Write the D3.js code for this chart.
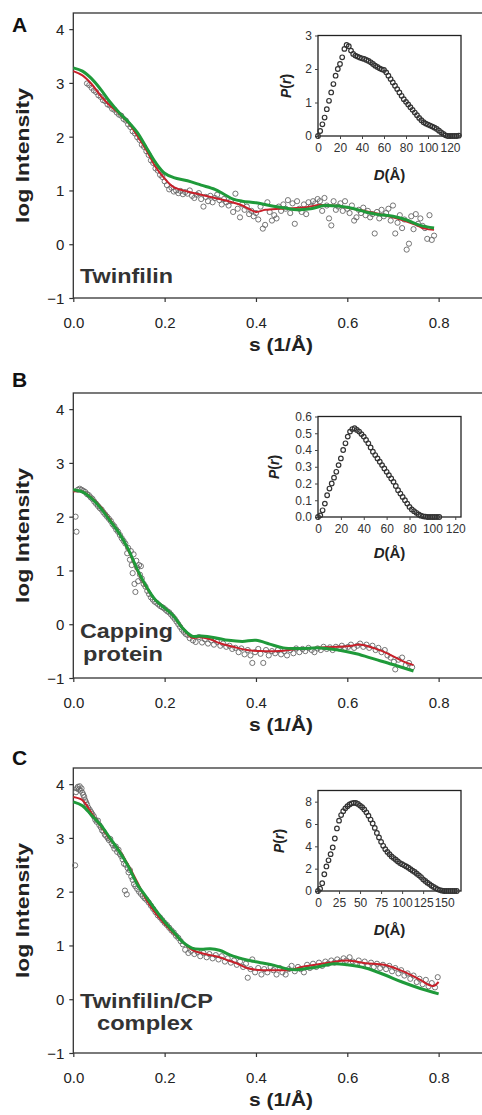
<!DOCTYPE html>
<html><head><meta charset="utf-8">
<script src="https://cdn.jsdelivr.net/npm/d3@7"></script>
<style>body{margin:0;background:#fff}svg{display:block}text{font-family:"Liberation Sans",Arial,sans-serif}</style>
</head><body>
<svg id="c" width="482" height="1115"></svg>
<script>
// ---------- DATA ----------
const xTicksMain = [0, 0.2, 0.4, 0.6, 0.8];
const yTicksMain = [-1, 0, 1, 2, 3, 4];

// Panel A: Twinfilin
const expA = [[0.030,2.99],[0.035,2.96],[0.040,2.91],[0.045,2.86],[0.050,2.83],[0.055,2.77],[0.060,2.74],[0.065,2.68],[0.070,2.66],[0.075,2.60],[0.080,2.58],[0.085,2.52],[0.090,2.50],[0.095,2.45],[0.100,2.41],[0.105,2.39],[0.110,2.33],[0.115,2.30],[0.120,2.23],[0.125,2.18],[0.130,2.10],[0.135,2.06],[0.140,1.99],[0.145,1.94],[0.150,1.85],[0.155,1.81],[0.160,1.73],[0.165,1.66],[0.170,1.56],[0.175,1.51],[0.180,1.41],[0.185,1.37],[0.190,1.29],[0.195,1.25],[0.200,1.17],
[0.205,1.10],[0.210,1.02],[0.215,1.05],[0.220,0.98],[0.225,1.00],[0.230,0.95],[0.235,0.99],[0.240,0.93],[0.245,0.97],[0.250,0.94],[0.255,1.00],[0.260,0.90],[0.265,0.86],[0.270,0.92],[0.275,0.95],[0.280,0.84],[0.285,0.70],[0.290,0.88],[0.295,0.80],[0.300,0.90],[0.305,0.78],[0.310,0.86],[0.315,0.92],[0.320,0.82],[0.325,0.74],[0.330,0.84],[0.335,0.78],[0.340,0.72],[0.345,0.80],[0.350,0.60],[0.355,0.94],[0.360,0.66],[0.365,0.50],[0.370,0.74],[0.375,0.64],[0.380,0.70],[0.385,0.56],[0.390,0.62],[0.395,0.52],[0.400,0.58],[0.405,0.46],[0.410,0.70],[0.415,0.29],[0.420,0.36],[0.425,0.78],[0.430,0.60],[0.435,0.44],[0.440,0.54],[0.445,0.48],[0.450,0.70],[0.455,0.62],[0.460,0.74],[0.465,0.66],[0.470,0.82],[0.475,0.58],[0.480,0.76],[0.485,0.38],[0.490,0.80],[0.495,0.66],[0.500,0.60],[0.505,0.74],[0.510,0.56],[0.515,0.78],[0.520,0.70],[0.525,0.80],[0.530,0.76],[0.535,0.84],[0.540,0.80],[0.545,0.62],[0.550,0.86],[0.555,0.72],[0.560,0.48],[0.565,0.35],[0.570,0.80],[0.575,0.64],[0.580,0.70],[0.585,0.76],[0.590,0.62],[0.595,0.80],[0.600,0.66],[0.605,0.58],[0.610,0.72],[0.615,0.44],[0.620,0.50],[0.625,0.64],[0.630,0.58],[0.635,0.68],[0.640,0.54],[0.645,0.62],[0.650,0.50],[0.655,0.56],[0.660,0.20],[0.665,0.60],[0.670,0.48],[0.675,0.64],[0.680,0.52],[0.685,0.58],[0.690,0.66],[0.695,0.44],[0.700,0.72],[0.705,0.20],[0.710,0.40],[0.715,0.54],[0.720,0.30],[0.725,0.46],[0.730,-0.10],[0.735,0.01],[0.740,0.52],[0.745,0.28],[0.750,0.56],[0.755,0.38],[0.760,0.48],[0.765,0.34],[0.770,0.30],[0.775,0.10],[0.780,0.54],[0.785,0.08],[0.790,0.16]];
const redA = [[0,3.22],[0.02,3.14],[0.04,2.98],[0.06,2.76],[0.08,2.58],[0.1,2.43],[0.12,2.26],[0.14,2.02],[0.16,1.75],[0.18,1.44],[0.2,1.22],[0.22,1.06],[0.25,0.98],[0.28,0.92],[0.31,0.86],[0.34,0.8],[0.37,0.72],[0.4,0.6],[0.42,0.64],[0.45,0.66],[0.48,0.67],[0.51,0.69],[0.54,0.73],[0.57,0.72],[0.6,0.68],[0.63,0.63],[0.66,0.58],[0.69,0.52],[0.72,0.45],[0.75,0.36],[0.77,0.29],[0.79,0.27]];
const greenA = [[0,3.28],[0.02,3.22],[0.04,3.08],[0.06,2.88],[0.08,2.65],[0.1,2.45],[0.12,2.28],[0.14,2.08],[0.16,1.8],[0.18,1.52],[0.2,1.32],[0.22,1.24],[0.25,1.18],[0.28,1.1],[0.31,1.02],[0.33,0.93],[0.35,0.84],[0.37,0.8],[0.4,0.77],[0.43,0.72],[0.46,0.68],[0.49,0.64],[0.52,0.66],[0.55,0.72],[0.58,0.71],[0.61,0.67],[0.64,0.6],[0.67,0.55],[0.7,0.52],[0.73,0.45],[0.76,0.35],[0.79,0.3]];
const prA = [[0,0],[2,0.15],[4,0.35],[6,0.55],[8,0.8],[10,1.05],[12,1.3],[14,1.55],[16,1.8],[18,2.0],[20,2.15],[22,2.35],[24,2.6],[26,2.72],[28,2.68],[30,2.55],[32,2.45],[34,2.4],[36,2.37],[38,2.34],[40,2.32],[42,2.3],[44,2.27],[46,2.24],[48,2.2],[50,2.15],[52,2.1],[54,2.06],[56,2.02],[58,1.99],[60,1.97],[62,1.9],[64,1.8],[66,1.7],[68,1.6],[70,1.5],[72,1.4],[74,1.3],[76,1.2],[78,1.1],[80,1.02],[82,0.94],[84,0.86],[86,0.78],[88,0.7],[90,0.62],[92,0.54],[94,0.47],[96,0.41],[98,0.37],[100,0.34],[102,0.31],[104,0.28],[106,0.25],[108,0.21],[110,0.16],[112,0.11],[114,0.06],[116,0.02],[118,0],[120,0],[122,0],[124,0],[126,0],[128,0.01]];
const prATicksX = [0,20,40,60,80,100,120];
const prATicksY = [0,1,2,3];

// Panel B: Capping protein
const expB = [[0.005,2.00],[0.007,1.72],[0.010,2.50],[0.014,2.52],[0.018,2.50],[0.022,2.48],[0.026,2.46],[0.030,2.42],[0.034,2.40],[0.038,2.36],[0.042,2.33],[0.046,2.28],[0.050,2.24],[0.054,2.20],[0.058,2.16],[0.062,2.13],[0.066,2.08],[0.070,2.04],[0.074,2.00],[0.078,1.96],[0.082,1.92],[0.086,1.86],[0.090,1.82],[0.094,1.76],[0.098,1.72],[0.102,1.66],[0.106,1.60],[0.110,1.55],[0.114,1.50],[0.118,1.32],[0.120,1.42],[0.124,1.20],[0.126,1.36],[0.128,1.10],[0.130,0.95],[0.132,1.30],[0.134,0.75],[0.136,0.60],[0.138,1.18],[0.140,1.05],[0.142,0.80],[0.144,1.10],[0.146,0.92],[0.148,1.08],[0.150,0.85],[0.154,0.75],[0.158,0.70],[0.162,0.62],[0.166,0.56],[0.170,0.50],[0.174,0.46],[0.178,0.42],[0.182,0.40],[0.186,0.37],[0.190,0.34],[0.194,0.32],[0.198,0.30],[0.202,0.27],[0.206,0.24],[0.210,0.22],[0.214,0.18],[0.218,0.14],[0.222,0.10],[0.226,0.05],[0.230,0.00],[0.234,-0.05],[0.238,-0.10],[0.242,-0.14],[0.246,-0.18],[0.250,-0.20],
[0.255,-0.26],[0.262,-0.30],[0.268,-0.33],[0.275,-0.24],[0.282,-0.34],[0.288,-0.28],[0.295,-0.36],[0.302,-0.30],[0.308,-0.38],[0.315,-0.33],[0.322,-0.40],[0.328,-0.36],[0.335,-0.42],[0.342,-0.40],[0.348,-0.46],[0.355,-0.44],[0.362,-0.52],[0.368,-0.45],[0.375,-0.56],[0.382,-0.48],[0.388,-0.58],[0.392,-0.72],[0.398,-0.52],[0.405,-0.46],[0.410,-0.55],[0.416,-0.72],[0.422,-0.48],[0.428,-0.58],[0.435,-0.50],[0.442,-0.54],[0.448,-0.48],[0.455,-0.56],[0.462,-0.50],[0.468,-0.58],[0.475,-0.48],[0.482,-0.54],[0.488,-0.45],[0.495,-0.52],[0.502,-0.46],[0.508,-0.50],[0.515,-0.44],[0.522,-0.48],[0.528,-0.52],[0.535,-0.45],[0.542,-0.48],[0.548,-0.42],[0.555,-0.46],[0.562,-0.43],[0.568,-0.48],[0.575,-0.42],[0.582,-0.45],[0.588,-0.40],[0.595,-0.44],[0.602,-0.42],[0.608,-0.38],[0.615,-0.44],[0.622,-0.40],[0.628,-0.36],[0.635,-0.42],[0.642,-0.38],[0.648,-0.44],[0.655,-0.40],[0.662,-0.48],[0.668,-0.44],[0.675,-0.52],[0.682,-0.48],[0.688,-0.58],[0.695,-0.62],[0.702,-0.70],[0.705,-0.84],[0.712,-0.66],[0.720,-0.62],[0.728,-0.76],[0.735,-0.72],[0.742,-0.80]];
const redB = [[0,2.47],[0.02,2.47],[0.04,2.35],[0.06,2.18],[0.08,1.95],[0.1,1.7],[0.12,1.38],[0.14,1.0],[0.16,0.68],[0.18,0.45],[0.2,0.3],[0.22,0.15],[0.24,-0.08],[0.26,-0.25],[0.28,-0.24],[0.3,-0.28],[0.32,-0.35],[0.35,-0.42],[0.38,-0.48],[0.41,-0.5],[0.45,-0.5],[0.5,-0.45],[0.55,-0.43],[0.6,-0.41],[0.63,-0.38],[0.66,-0.45],[0.69,-0.55],[0.72,-0.68],[0.745,-0.76]];
const greenB = [[0,2.5],[0.02,2.46],[0.04,2.34],[0.06,2.16],[0.08,1.93],[0.1,1.7],[0.12,1.4],[0.14,1.02],[0.16,0.7],[0.18,0.45],[0.2,0.3],[0.22,0.15],[0.24,-0.08],[0.26,-0.22],[0.28,-0.22],[0.31,-0.25],[0.34,-0.3],[0.37,-0.32],[0.4,-0.3],[0.43,-0.37],[0.46,-0.44],[0.5,-0.45],[0.54,-0.44],[0.58,-0.48],[0.62,-0.55],[0.66,-0.65],[0.7,-0.75],[0.745,-0.87]];
const prB = [[0,0],[2,0.01],[4,0.04],[6,0.08],[8,0.13],[10,0.17],[12,0.2],[14,0.235],[16,0.27],[18,0.31],[20,0.35],[22,0.4],[24,0.44],[26,0.48],[28,0.51],[30,0.525],[32,0.53],[34,0.52],[36,0.51],[38,0.495],[40,0.48],[42,0.46],[44,0.44],[46,0.415],[48,0.39],[50,0.37],[52,0.35],[54,0.33],[56,0.31],[58,0.29],[60,0.27],[62,0.25],[64,0.23],[66,0.21],[68,0.185],[70,0.16],[72,0.14],[74,0.12],[76,0.1],[78,0.08],[80,0.06],[82,0.045],[84,0.035],[86,0.025],[88,0.015],[90,0.008],[92,0.004],[94,0.002],[96,0],[98,0],[100,0],[102,0],[104,0],[106,0]];
const prBTicksX = [0,20,40,60,80,100,120];
const prBTicksY = [0,0.1,0.2,0.3,0.4,0.5,0.6];

// Panel C: Twinfilin/CP complex
const expC = [[0.004,2.49],[0.006,3.85],[0.008,3.92],[0.010,3.95],[0.012,3.90],[0.014,3.96],[0.016,3.88],[0.018,3.92],[0.020,3.84],[0.022,3.80],[0.024,3.76],[0.026,3.70],[0.028,3.66],[0.030,3.62],[0.033,3.56],[0.036,3.52],[0.039,3.48],[0.042,3.44],[0.045,3.40],[0.048,3.34],[0.051,3.30],[0.054,3.32],[0.057,3.24],[0.060,3.20],[0.063,3.14],[0.066,3.12],[0.069,3.06],[0.072,3.04],[0.075,3.00],[0.078,2.96],[0.081,2.98],[0.084,2.90],[0.087,2.86],[0.090,2.80],[0.093,2.84],[0.096,2.74],[0.099,2.78],[0.102,2.70],[0.105,2.66],[0.108,2.60],[0.111,2.52],[0.113,2.02],[0.115,2.50],[0.117,1.95],[0.119,2.44],[0.121,2.36],[0.124,2.40],[0.127,2.28],[0.130,2.22],[0.133,2.14],[0.136,2.10],[0.140,2.05],[0.144,2.00],[0.148,1.96],[0.152,1.92],[0.156,1.88],[0.160,1.85],[0.165,1.80],[0.170,1.74],[0.175,1.68],[0.180,1.62],[0.185,1.56],[0.190,1.52],[0.195,1.47],[0.200,1.42],[0.205,1.38],[0.210,1.33],[0.215,1.28],[0.220,1.24],[0.225,1.18],[0.230,1.14],[0.235,1.08],[0.240,1.02],
[0.245,0.92],[0.252,0.86],[0.258,0.90],[0.265,0.84],[0.272,0.88],[0.278,0.80],[0.285,0.86],[0.292,0.78],[0.298,0.84],[0.305,0.76],[0.312,0.82],[0.318,0.74],[0.325,0.80],[0.332,0.70],[0.338,0.76],[0.345,0.68],[0.352,0.72],[0.358,0.64],[0.365,0.70],[0.372,0.60],[0.378,0.66],[0.382,0.40],[0.388,0.56],[0.392,0.74],[0.398,0.50],[0.405,0.58],[0.412,0.46],[0.418,0.56],[0.425,0.50],[0.432,0.60],[0.438,0.54],[0.445,0.46],[0.452,0.58],[0.458,0.50],[0.465,0.46],[0.472,0.56],[0.478,0.62],[0.485,0.52],[0.492,0.60],[0.498,0.56],[0.505,0.50],[0.512,0.64],[0.518,0.58],[0.525,0.66],[0.532,0.60],[0.538,0.68],[0.545,0.62],[0.552,0.70],[0.558,0.66],[0.565,0.72],[0.572,0.68],[0.578,0.74],[0.585,0.70],[0.592,0.76],[0.598,0.72],[0.605,0.78],[0.612,0.70],[0.618,0.66],[0.625,0.72],[0.632,0.64],[0.638,0.70],[0.645,0.62],[0.652,0.68],[0.658,0.60],[0.665,0.66],[0.672,0.58],[0.678,0.64],[0.685,0.56],[0.692,0.62],[0.698,0.52],[0.705,0.58],[0.712,0.48],[0.718,0.54],[0.725,0.44],[0.732,0.48],[0.738,0.38],[0.745,0.44],[0.752,0.32],[0.758,0.38],[0.765,0.28],[0.772,0.36],[0.778,0.24],[0.785,0.30],[0.792,0.22],[0.798,0.41]];
const redC = [[0,3.76],[0.02,3.7],[0.04,3.46],[0.06,3.22],[0.08,2.98],[0.1,2.78],[0.12,2.5],[0.14,2.18],[0.16,1.85],[0.18,1.6],[0.2,1.4],[0.22,1.22],[0.24,1.06],[0.26,0.92],[0.28,0.86],[0.3,0.82],[0.32,0.78],[0.34,0.72],[0.36,0.66],[0.38,0.58],[0.4,0.55],[0.43,0.54],[0.46,0.54],[0.48,0.55],[0.5,0.6],[0.53,0.64],[0.56,0.68],[0.6,0.72],[0.64,0.67],[0.68,0.64],[0.71,0.56],[0.74,0.45],[0.76,0.36],[0.78,0.26],[0.79,0.25],[0.8,0.32]];
const greenC = [[0,3.67],[0.02,3.6],[0.04,3.42],[0.06,3.24],[0.08,3.0],[0.1,2.76],[0.12,2.48],[0.14,2.14],[0.16,1.9],[0.18,1.66],[0.2,1.44],[0.22,1.25],[0.24,1.06],[0.26,0.95],[0.28,0.93],[0.3,0.94],[0.32,0.91],[0.35,0.8],[0.38,0.73],[0.41,0.68],[0.44,0.63],[0.47,0.56],[0.49,0.55],[0.51,0.57],[0.54,0.61],[0.57,0.66],[0.6,0.64],[0.64,0.58],[0.68,0.46],[0.72,0.32],[0.76,0.2],[0.8,0.1]];
const prC = [[0,0],[2.5,0.2],[5,0.7],[7.5,1.5],[10,2.2],[12.5,2.75],[15,3.3],[17.5,3.9],[20,4.7],[22.5,5.6],[25,6.3],[27.5,6.8],[30,7.15],[32.5,7.4],[35,7.6],[37.5,7.75],[40,7.85],[42.5,7.9],[45,7.88],[47.5,7.8],[50,7.65],[52.5,7.5],[55,7.3],[57.5,7.05],[60,6.75],[62.5,6.4],[65,6.05],[67.5,5.65],[70,5.2],[72.5,4.8],[75,4.4],[77.5,4.05],[80,3.75],[82.5,3.5],[85,3.3],[87.5,3.1],[90,2.95],[92.5,2.8],[95,2.65],[97.5,2.5],[100,2.4],[102.5,2.3],[105,2.2],[107.5,2.08],[110,1.95],[112.5,1.82],[115,1.7],[117.5,1.55],[120,1.4],[122.5,1.25],[125,1.05],[127.5,0.9],[130,0.75],[132.5,0.62],[135,0.48],[137.5,0.36],[140,0.25],[142.5,0.15],[145,0.08],[147.5,0.03],[150,0],[152.5,0],[155,0],[157.5,0],[160,0],[162.5,0],[165,0]];
const prCTicksX = [0,25,50,75,100,125,150];
const prCTicksY = [0,2,4,6,8];

// ---------- DRAW ----------
const svg = d3.select("#c");
svg.append("rect").attr("width",482).attr("height",1115).attr("fill","#fff");
const GREEN = "#1f9a3a", RED = "#c8202a", AX = "#333";

function panel(o){
  const g = svg.append("g");
  const x = d3.scaleLinear().domain([0,0.9]).range([73.3,484.3]);
  const y = d3.scaleLinear().domain([-1,4.3]).range([o.bottom,o.bottom-285]);
  g.append("rect").attr("x",73.3).attr("y",o.bottom-285).attr("width",420).attr("height",285)
    .attr("fill","none").attr("stroke",AX).attr("stroke-width",1.3);
  const xa = g.append("g").attr("transform",`translate(0,${o.bottom})`)
    .call(d3.axisBottom(x).tickValues(xTicksMain).tickFormat(d3.format(".1f")).tickSize(4).tickPadding(0));
  const ya = g.append("g").attr("transform","translate(73.3,0)")
    .call(d3.axisLeft(y).tickValues(yTicksMain).tickFormat(d3.format("d")).tickSize(4).tickPadding(5));
  [xa,ya].forEach(a=>{a.select(".domain").remove();a.selectAll("line").attr("stroke",AX).attr("stroke-width",1.2);
    a.selectAll("text").attr("fill","#222").style("font-size","15px");});
  xa.selectAll("text").attr("dy",null).attr("y",30);
  ya.selectAll("text").attr("dy","0.36em");
  g.append("g").selectAll("circle").data(o.exp).join("circle")
    .attr("cx",d=>x(d[0])).attr("cy",d=>y(d[1])).attr("r",2.6)
    .attr("fill","none").attr("stroke","#666").attr("stroke-width",0.9);
  const line = d3.line().x(d=>x(d[0])).y(d=>y(d[1])).curve(d3.curveCatmullRom.alpha(0.5));
  g.append("path").datum(o.red).attr("d",line).attr("fill","none").attr("stroke",RED).attr("stroke-width",2);
  g.append("path").datum(o.green).attr("d",line).attr("fill","none").attr("stroke",GREEN).attr("stroke-width",3);
  g.append("text").attr("transform",`translate(29,${o.bottom-142.5}) rotate(-90)`).attr("text-anchor","middle")
    .attr("font-weight","bold").style("font-size","19px").attr("fill","#222")
    .attr("textLength",135).attr("lengthAdjust","spacingAndGlyphs").text("log Intensity");
  g.append("text").attr("x",249).attr("y",o.bottom+53).attr("font-weight","bold").style("font-size","19px").attr("fill","#222")
    .attr("textLength",64).attr("lengthAdjust","spacingAndGlyphs").text("s (1/Å)");
  g.append("text").attr("x",12).attr("y",o.letterY).attr("font-weight","bold").style("font-size","21px").attr("fill","#111").text(o.letter);
  o.names.forEach(n=>{
    g.append("text").attr("x",n.x).attr("y",n.y).attr("font-weight","bold").style("font-size","21px").attr("fill","#333")
      .attr("textLength",n.w).attr("lengthAdjust","spacingAndGlyphs").text(n.t);
  });
  // inset
  const ix = d3.scaleLinear().domain(o.pxDomain).range([318,461]);
  const iy = d3.scaleLinear().domain(o.pyDomain).range([o.iBottom,o.iBottom-100.5]);
  const ig = g.append("g");
  ig.append("rect").attr("x",318).attr("y",o.iBottom-100.5).attr("width",143).attr("height",100.5)
    .attr("fill","#fff").attr("stroke","#222").attr("stroke-width",1.3);
  const ixa = ig.append("g").attr("transform",`translate(0,${o.iBottom})`)
    .call(d3.axisBottom(ix).tickValues(o.pxTicks).tickSize(3).tickPadding(4));
  const iya = ig.append("g").attr("transform","translate(318,0)")
    .call(d3.axisLeft(iy).tickValues(o.pyTicks).tickFormat(o.pyFmt).tickSize(3).tickPadding(3));
  [ixa,iya].forEach(a=>{a.select(".domain").remove();a.selectAll("line").attr("stroke","#444");
    a.selectAll("text").attr("fill","#333").style("font-size","12px");});
  ig.append("g").selectAll("circle").data(o.pr).join("circle")
    .attr("cx",d=>ix(d[0])).attr("cy",d=>iy(d[1])).attr("r",2.3)
    .attr("fill","none").attr("stroke","#333").attr("stroke-width",1.2);
  const pt = ig.append("text").attr("transform",`translate(${o.pLabelX},${o.iBottom-50}) rotate(-90)`)
    .attr("text-anchor","middle").attr("font-weight","bold").style("font-size","14px").attr("fill","#222");
  pt.append("tspan").attr("font-style","italic").text("P");
  pt.append("tspan").text("(");
  pt.append("tspan").attr("font-style","italic").text("r");
  pt.append("tspan").text(")");
  const dt = ig.append("text").attr("x",389.5).attr("y",o.iBottom+o.dOff).attr("text-anchor","middle")
    .attr("font-weight","bold").style("font-size","15px").attr("fill","#222");
  dt.append("tspan").attr("font-style","italic").text("D");
  dt.append("tspan").text("(Å)");
}

panel({bottom:298, letter:"A", letterY:32, exp:expA, red:redA, green:greenA,
  names:[{t:"Twinfilin",x:80,y:283,w:93}],
  pr:prA, pxDomain:[0,130], pyDomain:[0,3], pxTicks:prATicksX, pyTicks:prATicksY, pyFmt:d3.format("d"),
  iBottom:136, pLabelX:291, dOff:44});
panel({bottom:678, letter:"B", letterY:387, exp:expB, red:redB, green:greenB,
  names:[{t:"Capping",x:80,y:638,w:93},{t:"protein",x:83,y:661,w:80}],
  pr:prB, pxDomain:[0,125], pyDomain:[0,0.6], pxTicks:prBTicksX, pyTicks:prBTicksY, pyFmt:d3.format(".1f"),
  iBottom:517, pLabelX:279, dOff:41});
panel({bottom:1053, letter:"C", letterY:765, exp:expC, red:redC, green:greenC,
  names:[{t:"Twinfilin/CP",x:80,y:1008,w:133},{t:"complex",x:97,y:1030,w:96}],
  pr:prC, pxDomain:[0,170], pyDomain:[0,9], pxTicks:prCTicksX, pyTicks:prCTicksY, pyFmt:d3.format("d"),
  iBottom:891, pLabelX:284, dOff:44});
</script>
</body></html>
